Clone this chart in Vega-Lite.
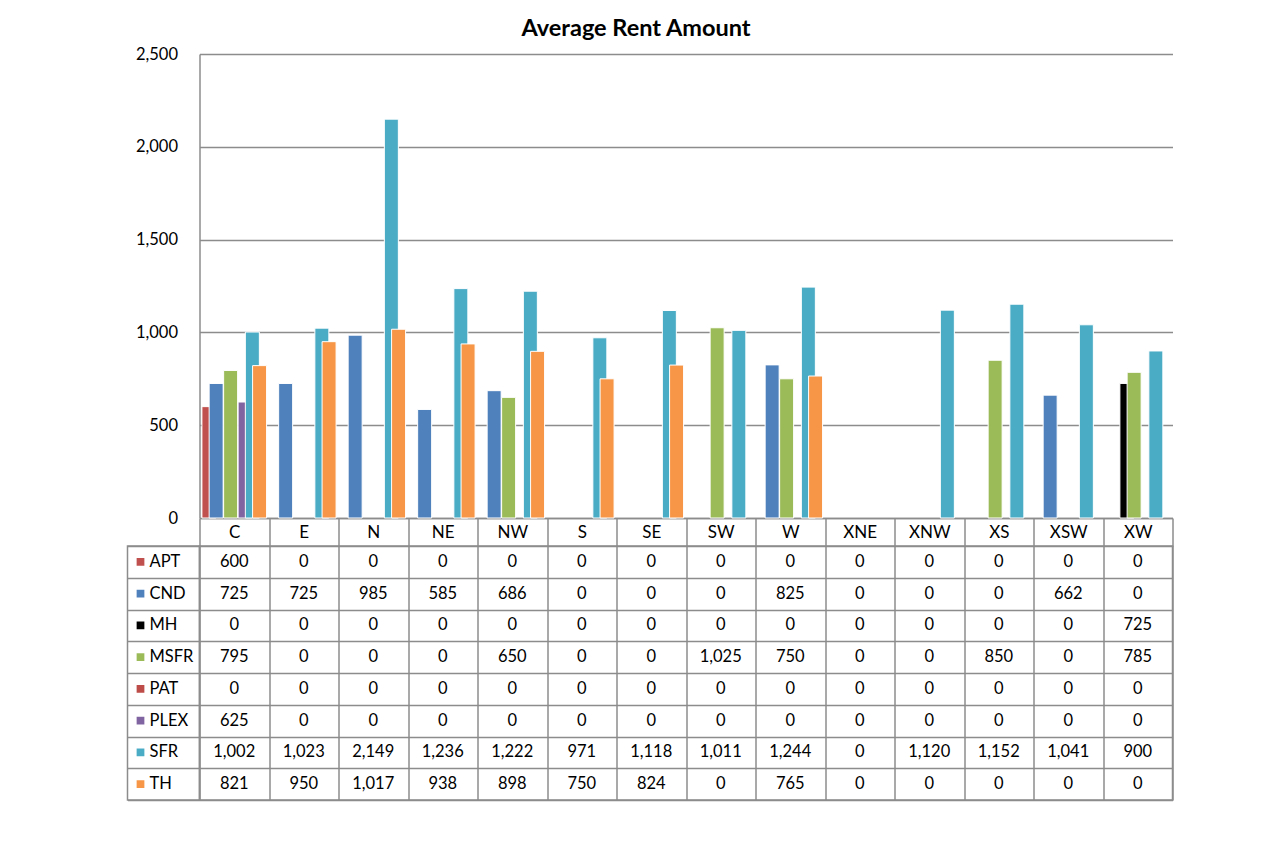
{
  "$schema": "https://vega.github.io/schema/vega-lite/v6.json",
  "padding": {"left": 126.5, "top": 16, "right": 10, "bottom": 10},
  "background": "white",
  "title": {"text": "Average Rent Amount", "font": "Lato", "fontSize": 23.5, "fontWeight": "bold", "color": "#000000", "anchor": "middle", "dx": -14, "offset": 6},
  "config": {
    "view": {"stroke": null},
    "font": "Lato",
    "axis": {"labelFont": "Lato", "labelColor": "#000000", "titleFont": "Lato"}
  },
  "datasets": {
    "rent": [
      {"cat": "C", "series": "APT", "value": 600}, {"cat": "E", "series": "APT", "value": 0}, {"cat": "N", "series": "APT", "value": 0}, {"cat": "NE", "series": "APT", "value": 0}, {"cat": "NW", "series": "APT", "value": 0}, {"cat": "S", "series": "APT", "value": 0}, {"cat": "SE", "series": "APT", "value": 0}, {"cat": "SW", "series": "APT", "value": 0}, {"cat": "W", "series": "APT", "value": 0}, {"cat": "XNE", "series": "APT", "value": 0}, {"cat": "XNW", "series": "APT", "value": 0}, {"cat": "XS", "series": "APT", "value": 0}, {"cat": "XSW", "series": "APT", "value": 0}, {"cat": "XW", "series": "APT", "value": 0},
      {"cat": "C", "series": "CND", "value": 725}, {"cat": "E", "series": "CND", "value": 725}, {"cat": "N", "series": "CND", "value": 985}, {"cat": "NE", "series": "CND", "value": 585}, {"cat": "NW", "series": "CND", "value": 686}, {"cat": "S", "series": "CND", "value": 0}, {"cat": "SE", "series": "CND", "value": 0}, {"cat": "SW", "series": "CND", "value": 0}, {"cat": "W", "series": "CND", "value": 825}, {"cat": "XNE", "series": "CND", "value": 0}, {"cat": "XNW", "series": "CND", "value": 0}, {"cat": "XS", "series": "CND", "value": 0}, {"cat": "XSW", "series": "CND", "value": 662}, {"cat": "XW", "series": "CND", "value": 0},
      {"cat": "C", "series": "MH", "value": 0}, {"cat": "E", "series": "MH", "value": 0}, {"cat": "N", "series": "MH", "value": 0}, {"cat": "NE", "series": "MH", "value": 0}, {"cat": "NW", "series": "MH", "value": 0}, {"cat": "S", "series": "MH", "value": 0}, {"cat": "SE", "series": "MH", "value": 0}, {"cat": "SW", "series": "MH", "value": 0}, {"cat": "W", "series": "MH", "value": 0}, {"cat": "XNE", "series": "MH", "value": 0}, {"cat": "XNW", "series": "MH", "value": 0}, {"cat": "XS", "series": "MH", "value": 0}, {"cat": "XSW", "series": "MH", "value": 0}, {"cat": "XW", "series": "MH", "value": 725},
      {"cat": "C", "series": "MSFR", "value": 795}, {"cat": "E", "series": "MSFR", "value": 0}, {"cat": "N", "series": "MSFR", "value": 0}, {"cat": "NE", "series": "MSFR", "value": 0}, {"cat": "NW", "series": "MSFR", "value": 650}, {"cat": "S", "series": "MSFR", "value": 0}, {"cat": "SE", "series": "MSFR", "value": 0}, {"cat": "SW", "series": "MSFR", "value": 1025}, {"cat": "W", "series": "MSFR", "value": 750}, {"cat": "XNE", "series": "MSFR", "value": 0}, {"cat": "XNW", "series": "MSFR", "value": 0}, {"cat": "XS", "series": "MSFR", "value": 850}, {"cat": "XSW", "series": "MSFR", "value": 0}, {"cat": "XW", "series": "MSFR", "value": 785},
      {"cat": "C", "series": "PAT", "value": 0}, {"cat": "E", "series": "PAT", "value": 0}, {"cat": "N", "series": "PAT", "value": 0}, {"cat": "NE", "series": "PAT", "value": 0}, {"cat": "NW", "series": "PAT", "value": 0}, {"cat": "S", "series": "PAT", "value": 0}, {"cat": "SE", "series": "PAT", "value": 0}, {"cat": "SW", "series": "PAT", "value": 0}, {"cat": "W", "series": "PAT", "value": 0}, {"cat": "XNE", "series": "PAT", "value": 0}, {"cat": "XNW", "series": "PAT", "value": 0}, {"cat": "XS", "series": "PAT", "value": 0}, {"cat": "XSW", "series": "PAT", "value": 0}, {"cat": "XW", "series": "PAT", "value": 0},
      {"cat": "C", "series": "PLEX", "value": 625}, {"cat": "E", "series": "PLEX", "value": 0}, {"cat": "N", "series": "PLEX", "value": 0}, {"cat": "NE", "series": "PLEX", "value": 0}, {"cat": "NW", "series": "PLEX", "value": 0}, {"cat": "S", "series": "PLEX", "value": 0}, {"cat": "SE", "series": "PLEX", "value": 0}, {"cat": "SW", "series": "PLEX", "value": 0}, {"cat": "W", "series": "PLEX", "value": 0}, {"cat": "XNE", "series": "PLEX", "value": 0}, {"cat": "XNW", "series": "PLEX", "value": 0}, {"cat": "XS", "series": "PLEX", "value": 0}, {"cat": "XSW", "series": "PLEX", "value": 0}, {"cat": "XW", "series": "PLEX", "value": 0},
      {"cat": "C", "series": "SFR", "value": 1002}, {"cat": "E", "series": "SFR", "value": 1023}, {"cat": "N", "series": "SFR", "value": 2149}, {"cat": "NE", "series": "SFR", "value": 1236}, {"cat": "NW", "series": "SFR", "value": 1222}, {"cat": "S", "series": "SFR", "value": 971}, {"cat": "SE", "series": "SFR", "value": 1118}, {"cat": "SW", "series": "SFR", "value": 1011}, {"cat": "W", "series": "SFR", "value": 1244}, {"cat": "XNE", "series": "SFR", "value": 0}, {"cat": "XNW", "series": "SFR", "value": 1120}, {"cat": "XS", "series": "SFR", "value": 1152}, {"cat": "XSW", "series": "SFR", "value": 1041}, {"cat": "XW", "series": "SFR", "value": 900},
      {"cat": "C", "series": "TH", "value": 821}, {"cat": "E", "series": "TH", "value": 950}, {"cat": "N", "series": "TH", "value": 1017}, {"cat": "NE", "series": "TH", "value": 938}, {"cat": "NW", "series": "TH", "value": 898}, {"cat": "S", "series": "TH", "value": 750}, {"cat": "SE", "series": "TH", "value": 824}, {"cat": "SW", "series": "TH", "value": 0}, {"cat": "W", "series": "TH", "value": 765}, {"cat": "XNE", "series": "TH", "value": 0}, {"cat": "XNW", "series": "TH", "value": 0}, {"cat": "XS", "series": "TH", "value": 0}, {"cat": "XSW", "series": "TH", "value": 0}, {"cat": "XW", "series": "TH", "value": 0}
    ]
  },
  "columns": 2,
  "spacing": {"row": 28, "column": 0},
  "bounds": "flush",
  "concat": [
    {
      "width": 72, "height": 464,
      "data": {"values": []},
      "mark": "point"
    },
    {
      "width": 973, "height": 464,
      "data": {"name": "rent"},
      "transform": [{"filter": "datum.value > 0"}],
      "mark": {"type": "bar", "width": 14, "stroke": "#ffffff", "strokeWidth": 1},
      "encoding": {
        "x": {"field": "cat", "type": "nominal",
          "scale": {"domain": ["C","E","N","NE","NW","S","SE","SW","W","XNE","XNW","XS","XSW","XW"], "paddingInner": 0, "paddingOuter": 0},
          "axis": {"title": null, "orient": "bottom", "labelAngle": 0, "labelFontSize": 17, "labelBaseline": "middle", "labelPadding": -14.2,
            "domain": true, "domainColor": "#8c8c8c", "domainWidth": 1.5,
            "ticks": true, "tickBand": "extent", "tickSize": 28.4, "tickColor": "#8c8c8c", "tickWidth": 1.5, "grid": false}},
        "xOffset": {"field": "series", "type": "nominal",
          "scale": {"domain": ["APT","CND","MH","MSFR","PAT","PLEX","SFR","TH"], "paddingInner": 0, "paddingOuter": 0.8}},
        "y": {"field": "value", "type": "quantitative",
          "scale": {"domain": [0, 2500], "nice": false},
          "axis": {"title": null, "values": [0, 500, 1000, 1500, 2000, 2500], "format": ",.0f", "labelFontSize": 16.5, "labelPadding": 22,
            "ticks": false, "domain": true, "domainColor": "#8c8c8c", "domainWidth": 1.5,
            "grid": true, "gridColor": "#8c8c8c", "gridWidth": 1.5}},
        "color": {"field": "series", "type": "nominal",
          "scale": {"domain": ["APT","CND","MH","MSFR","PAT","PLEX","SFR","TH"], "range": ["#C0504D","#4F81BD","#000000","#9BBB59","#BD4B48","#8064A2","#4BACC6","#F79646"]},
          "legend": null}
      }
    },
    {
      "width": 72, "height": 254,
      "data": {"name": "rent"},
      "transform": [{"filter": "datum.cat === 'C'"}],
      "view": {"stroke": "#8c8c8c", "strokeWidth": 1.5},
      "encoding": {
        "y": {"field": "series", "type": "nominal",
          "scale": {"domain": ["APT","CND","MH","MSFR","PAT","PLEX","SFR","TH"], "paddingInner": 0, "paddingOuter": 0},
          "axis": {"title": null, "labels": false, "ticks": false, "domain": false, "grid": true, "tickBand": "extent", "gridColor": "#8c8c8c", "gridWidth": 1.5}}
      },
      "layer": [
        {
          "mark": {"type": "point", "shape": "square", "filled": true, "size": 60, "opacity": 1, "xOffset": -23},
          "encoding": {
            "color": {"field": "series", "type": "nominal",
              "scale": {"domain": ["APT","CND","MH","MSFR","PAT","PLEX","SFR","TH"], "range": ["#C0504D","#4F81BD","#000000","#9BBB59","#BD4B48","#8064A2","#4BACC6","#F79646"]},
              "legend": null}
          }
        },
        {
          "mark": {"type": "text", "align": "left", "dx": -14, "fontSize": 16.5, "color": "#000000"},
          "encoding": {"text": {"field": "series", "type": "nominal"}}
        }
      ]
    },
    {
      "width": 973, "height": 254,
      "data": {"name": "rent"},
      "view": {"stroke": "#8c8c8c", "strokeWidth": 1.5},
      "mark": {"type": "text", "fontSize": 16.5, "color": "#000000"},
      "encoding": {
        "x": {"field": "cat", "type": "nominal",
          "scale": {"domain": ["C","E","N","NE","NW","S","SE","SW","W","XNE","XNW","XS","XSW","XW"], "paddingInner": 0, "paddingOuter": 0},
          "axis": {"title": null, "labels": false, "ticks": false, "domain": false, "grid": true, "tickBand": "extent", "gridColor": "#8c8c8c", "gridWidth": 1.5}},
        "y": {"field": "series", "type": "nominal",
          "scale": {"domain": ["APT","CND","MH","MSFR","PAT","PLEX","SFR","TH"], "paddingInner": 0, "paddingOuter": 0},
          "axis": {"title": null, "labels": false, "ticks": false, "domain": false, "grid": true, "tickBand": "extent", "gridColor": "#8c8c8c", "gridWidth": 1.5}},
        "text": {"field": "value", "type": "quantitative", "format": ","}
      }
    }
  ]
}
